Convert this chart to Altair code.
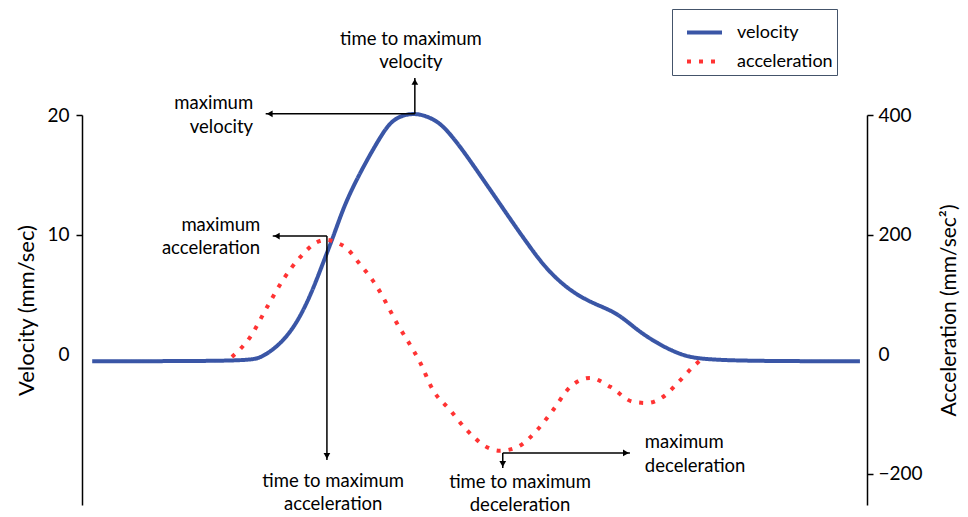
import altair as alt
import pandas as pd

# ---------------- data ----------------
# velocity trace: time (arbitrary units 0-100) and velocity (mm/sec)
vel_t = [1.3, 21.0, 22.7, 24.3, 26.1, 27.8, 29.4, 30.7, 32.0, 33.2, 34.5, 36.3, 38.0, 39.2,
         40.5, 42.2, 43.7, 45.2, 46.5, 48.5, 50.7, 52.9, 54.9, 56.7, 59.2, 62.5, 65.6, 68.2,
         70.7, 73.2, 76.2, 79.6, 99.1]
vel_v = [-0.6, -0.6, -0.33, 0.33, 1.42, 3.10, 5.36, 7.62, 9.79, 12.05, 13.97, 16.23, 18.16,
         19.33, 19.92, 20.15, 19.96, 19.5, 18.74, 17.07, 14.98, 12.89, 10.96, 9.29, 7.03,
         5.10, 4.10, 3.43, 2.01, 0.92, -0.08, -0.6, -0.6]

# acceleration trace (mm/sec^2)
acc_t = [19.1, 21.4, 23.6, 25.6, 27.8, 29.9, 31.1, 32.5, 33.8, 35.0, 37.6, 40.1, 43.1, 44.7,
         46.9, 49.0, 51.6, 53.2, 55.4, 58.0, 60.0, 62.2, 64.7, 67.3, 70.2, 72.0, 74.0, 76.2,
         77.8, 79.1]
acc_a = [-5, 28, 79, 124, 162, 187, 191, 186, 176, 157, 112, 52, -15, -60, -94, -127, -156,
         -162, -156, -127, -94, -55, -40, -55, -80, -82, -72, -44, -22, -7]

series_names = ["velocity", "acceleration"]
series_colors = ["#3A56A6", "#FF3333"]

vel_ticks = [0, 10, 20]
acc_ticks = [-200, 0, 200, 400]

# annotation arrows (on velocity scale): start -> tip
arr_t1 = [42.4, 42.4, 31.2, 31.2, 53.6, 53.6]
arr_v1 = [20.1, 20.1, 9.87, 9.87, -8.28, -8.28]
arr_t2 = [23.4, 42.4, 24.3, 31.2, 69.8, 53.6]
arr_v2 = [20.1, 23.1, 9.87, -8.87, -8.28, -9.54]
arr_dir = ["left", "up", "left", "down", "right", "down"]

# annotation labels (on velocity scale)
lab_text = ["maximum", "velocity", "maximum", "acceleration",
            "time to maximum", "velocity", "time to maximum", "acceleration",
            "time to maximum", "deceleration",
            "maximum", "deceleration"]
lab_t = [21.8, 21.8, 22.7, 22.7, 41.9, 41.9, 32.0, 32.0, 55.8, 55.8, 71.7, 71.7]
lab_v = [21.0, 19.0, 10.8, 8.87, 26.36, 24.43, -10.63, -12.55, -10.71, -12.64, -7.36, -9.37]
lab_align = ["right", "right", "right", "right", "center", "center", "center", "center",
             "center", "center", "left", "left"]

# ---------------- layout ----------------
FONT = "Lato"
W, H = 785, 390
V_TOP = 20
V_BOTTOM = V_TOP - H * 20 / 239.0
A_TOP = 400
A_BOTTOM = V_BOTTOM * 20

vel_df = pd.DataFrame({"t": vel_t, "v": vel_v, "series": "velocity"})
acc_df = pd.DataFrame({"t": acc_t, "a": acc_a, "series": "acceleration"})
arr_df = pd.DataFrame({"t": arr_t1, "v": arr_v1, "t2": arr_t2, "v2": arr_v2, "dir": arr_dir})
lab_df = pd.DataFrame({"text": lab_text, "t": lab_t, "v": lab_v, "align": lab_align})

x_scale = alt.Scale(domain=[0, 100], nice=False, zero=False)
x_enc = alt.X("t:Q", scale=x_scale, axis=None)

no_zero_tick = {"condition": {"test": "datum.value === 0", "value": 0}, "value": 1}

vel_axis = alt.Axis(values=vel_ticks, orient="left", grid=False, tickSize=6, tickWidth=1.5,
                    domainWidth=1.5, domainColor="black", tickColor="black",
                    labelFont=FONT, labelFontSize=19, labelColor="black", labelPadding=7,
                    title="Velocity (mm/sec)", titleFont=FONT, titleFontSize=22,
                    titleFontWeight="normal", titleColor="black", titlePadding=8,
                    tickOpacity=no_zero_tick)
vel_scale = alt.Scale(domain=[V_BOTTOM, V_TOP], nice=False, zero=False)


def vy(field="v"):
    return alt.Y(f"{field}:Q", scale=vel_scale, axis=vel_axis)


color_enc = alt.Color("series:N", scale=alt.Scale(domain=series_names, range=series_colors),
                      legend=alt.Legend(orient="none", legendX=590, legendY=-106, title=None,
                                        strokeColor="#44546A", fillColor="white",
                                        padding=4, labelFont=FONT, labelFontSize=18,
                                        labelColor="black", symbolType="stroke",
                                        symbolStrokeWidth=4, symbolSize=1225,
                                        symbolOffset=9, labelOffset=13, rowPadding=0))
dash_enc = alt.StrokeDash("series:N", scale=alt.Scale(domain=series_names,
                                                      range=[[1, 0], [4, 8]]), legend=None)

vel_line = alt.Chart(vel_df).mark_line(strokeWidth=4, interpolate="basis").encode(
    x=x_enc, y=vy(), color=color_enc, strokeDash=dash_enc, order="t:Q")

acc_line = alt.Chart(acc_df).mark_line(strokeWidth=4, interpolate="monotone",
                                       strokeCap="butt").encode(
    x=x_enc,
    y=alt.Y("a:Q", scale=alt.Scale(domain=[A_BOTTOM, A_TOP], nice=False, zero=False),
            axis=alt.Axis(values=acc_ticks, orient="right", grid=False, tickSize=6,
                          tickWidth=1.5, domainWidth=1.5, domainColor="black",
                          tickColor="black", labelFont=FONT, labelFontSize=19,
                          labelColor="black", labelPadding=5,
                          title="Acceleration (mm/sec²)", titleFont=FONT, titleFontSize=21,
                          titleFontWeight="normal", titleColor="black", titlePadding=37,
                          titleAngle=270, tickOpacity=no_zero_tick)),
    color=color_enc, strokeDash=dash_enc, order="t:Q")

rules = alt.Chart(arr_df).mark_rule(color="black", strokeWidth=1.5).encode(
    x=x_enc, y=vy(), x2="t2:Q", y2="v2:Q")

heads = []
for d, shape, dx, dy in [("left", "triangle-left", 4, 0), ("right", "triangle-right", -4, 0),
                         ("up", "triangle-up", 0, 4), ("down", "triangle-down", 0, -4)]:
    heads.append(
        alt.Chart(arr_df).transform_filter(f"datum.dir === '{d}'")
        .mark_point(shape=shape, filled=True, color="black", size=45, opacity=1,
                    xOffset=dx, yOffset=dy)
        .encode(x=alt.X("t2:Q", scale=x_scale, axis=None), y=vy("v2"))
    )

texts = []
for al in ["right", "center", "left"]:
    texts.append(
        alt.Chart(lab_df).transform_filter(f"datum.align === '{al}'")
        .mark_text(align=al, baseline="middle", font=FONT, fontSize=18.5, color="black")
        .encode(x=x_enc, y=vy(), text="text:N")
    )

left_group = alt.layer(vel_line, rules, *heads, *texts)

chart = alt.layer(left_group, acc_line).resolve_scale(y="independent").properties(
    width=W, height=H,
    autosize=alt.AutoSizeParams(type="none"),
    padding={"left": 74, "top": 107, "right": 93, "bottom": 12},
).configure_view(stroke=None)

chart.save("out.html", embed_options={"renderer": "svg", "actions": False})
